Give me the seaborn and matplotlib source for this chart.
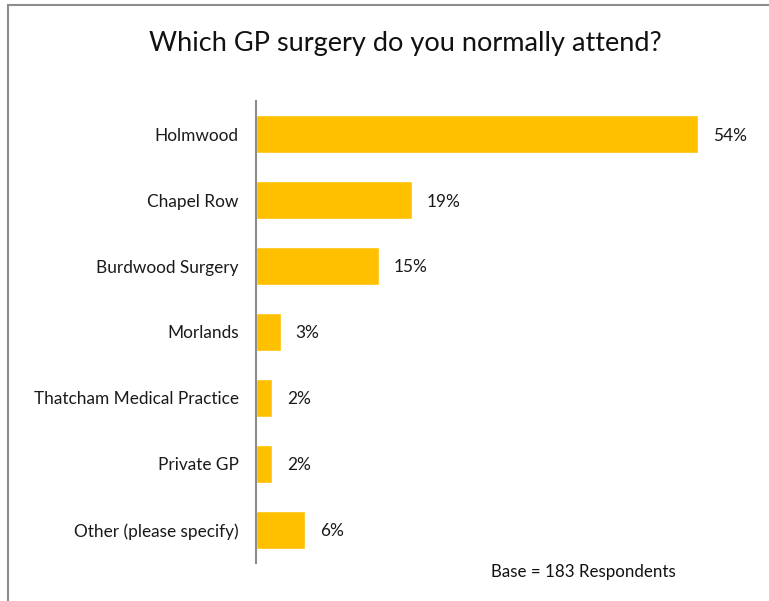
import matplotlib
matplotlib.use("Agg")
import matplotlib.pyplot as plt
import seaborn as sns
import pandas as pd
from matplotlib.lines import Line2D

categories = ["Holmwood", "Chapel Row", "Burdwood Surgery", "Morlands",
              "Thatcham Medical Practice", "Private GP", "Other (please specify)"]
values = [54, 19, 15, 3, 2, 2, 6]
value_labels = ["54%", "19%", "15%", "3%", "2%", "2%", "6%"]
title = "Which GP surgery do you normally attend?"
base_note = "Base = 183 Respondents"

sns.set_theme(style="white")
plt.rcParams['font.family'] = ['Lato', 'DejaVu Sans']

df = pd.DataFrame({"surgery": categories, "pct": values})

fig = plt.figure(figsize=(7.69, 6.01), dpi=100)
ax = fig.add_axes([256/769, 1-563/601, (764-256)/769, (563-101)/601])
sns.barplot(data=df, x="pct", y="surgery", ax=ax, color="#FFC000",
            saturation=1, width=0.58, orient="h")
ax.set_xlim(0, 62)
ax.set_ylim(6.5, -0.5)
ax.set_xlabel("")
ax.set_ylabel("")
ax.set_xticks([])
for s in ["top", "right", "bottom"]:
    ax.spines[s].set_visible(False)
ax.spines["left"].set_color("#8c8c8c")
ax.spines["left"].set_linewidth(1.5)
ax.tick_params(axis="y", length=0, pad=12.5, labelsize=12.4, labelcolor="#1a1a1a")
for t in ax.get_yticklabels():
    t.set_verticalalignment("center_baseline")

for p, lab in zip(ax.patches, value_labels):
    ax.annotate(lab, (p.get_width(), p.get_y() + p.get_height()/2),
                xytext=(15, 0), textcoords="offset pixels",
                va="center_baseline", ha="left", fontsize=12.4, color="#1a1a1a")

fig.text(405/769, 1-43/601, title, ha="center", va="center", fontsize=19.5, color="#111111")
fig.text(583/769, 1-572/601, base_note, ha="center", va="center", fontsize=12.2, color="#111111")

# outer frame (left and top edges visible)
fig.add_artist(Line2D([8/769, 8/769], [0, 1-5/601], transform=fig.transFigure,
                      color="#8c8c8c", lw=1.5))
fig.add_artist(Line2D([8/769, 1], [1-5/601, 1-5/601], transform=fig.transFigure,
                      color="#8c8c8c", lw=1.5))

fig.savefig("out.png", dpi=100)
